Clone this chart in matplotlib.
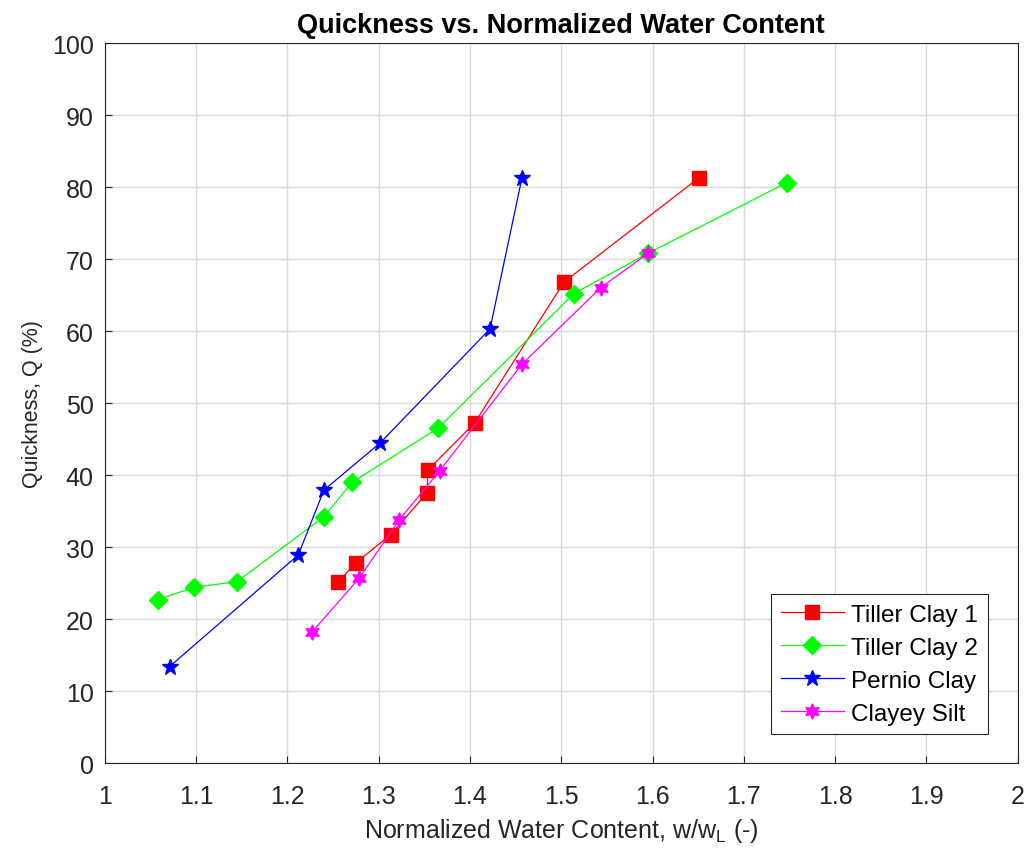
import matplotlib
matplotlib.use("Agg")
import matplotlib.pyplot as plt

plt.rcParams['font.family'] = ['Liberation Sans', 'DejaVu Sans']

tc1_x = [1.256, 1.275, 1.313, 1.353, 1.354, 1.405, 1.503, 1.651]
tc1_y = [25.2, 27.8, 31.7, 37.5, 40.7, 47.2, 66.8, 81.3]

tc2_x = [1.058, 1.098, 1.145, 1.240, 1.271, 1.365, 1.514, 1.595, 1.747]
tc2_y = [22.7, 24.4, 25.2, 34.2, 39.0, 46.5, 65.2, 70.8, 80.6]

pc_x = [1.071, 1.212, 1.240, 1.302, 1.422, 1.457]
pc_y = [13.4, 28.9, 37.9, 44.5, 60.3, 81.3]

cs_x = [1.227, 1.279, 1.322, 1.367, 1.457, 1.543, 1.595]
cs_y = [18.2, 25.7, 33.7, 40.6, 55.4, 66.0, 70.8]

xticks = [1, 1.1, 1.2, 1.3, 1.4, 1.5, 1.6, 1.7, 1.8, 1.9, 2]
yticks = [0, 10, 20, 30, 40, 50, 60, 70, 80, 90, 100]

fig = plt.figure(figsize=(10.27, 8.53), dpi=100)
ax = fig.add_axes([0.102, 0.1043, 0.889, 0.8441])

lw = 0.9
ax.plot(tc1_x, tc1_y, color='#ff0000', marker='s', ms=9.5, lw=lw, label='Tiller Clay 1')
ax.plot(tc2_x, tc2_y, color='#00ff00', marker='D', ms=9, lw=lw, label='Tiller Clay 2')
ax.plot(pc_x, pc_y, color='#0000ff', marker='*', ms=12, lw=lw, label='Pernio Clay')
ax.plot(cs_x, cs_y, color='#ff00ff', marker=(6, 1, 0), ms=11, lw=lw, label='Clayey Silt')

ax.set_xlim(1, 2)
ax.set_ylim(0, 100)
ax.set_xticks(xticks)
ax.set_yticks(yticks)
ax.set_xticklabels(['1', '1.1', '1.2', '1.3', '1.4', '1.5', '1.6', '1.7', '1.8', '1.9', '2'])
ax.grid(True, color='#d9d9d9', lw=1)
ax.set_axisbelow(True)
ax.tick_params(direction='in', labelsize=18, colors='#262626', length=5)
ax.tick_params(axis='x', pad=15)
ax.tick_params(axis='y', pad=8)
for s in ax.spines.values():
    s.set_color('#262626')
    s.set_linewidth(0.8)

ax.set_xlabel('Normalized Water Content, w/w$_\\mathregular{L}$ (-)', fontsize=18, color='#262626', labelpad=6)
ax.set_ylabel('Quickness, Q (%)', fontsize=15.5, color='#262626', labelpad=6)
ax.set_title('Quickness vs. Normalized Water Content', fontsize=19.5, fontweight='bold', pad=8)

leg = ax.legend(loc='lower right', bbox_to_anchor=(0.967, 0.04), fontsize=17.5, fancybox=False,
                edgecolor='#262626', framealpha=1, borderpad=0.4, labelspacing=0.45,
                handlelength=2.6, handletextpad=0.3, borderaxespad=0.0)
leg.get_frame().set_linewidth(0.8)

fig.savefig('out.png', dpi=100)
